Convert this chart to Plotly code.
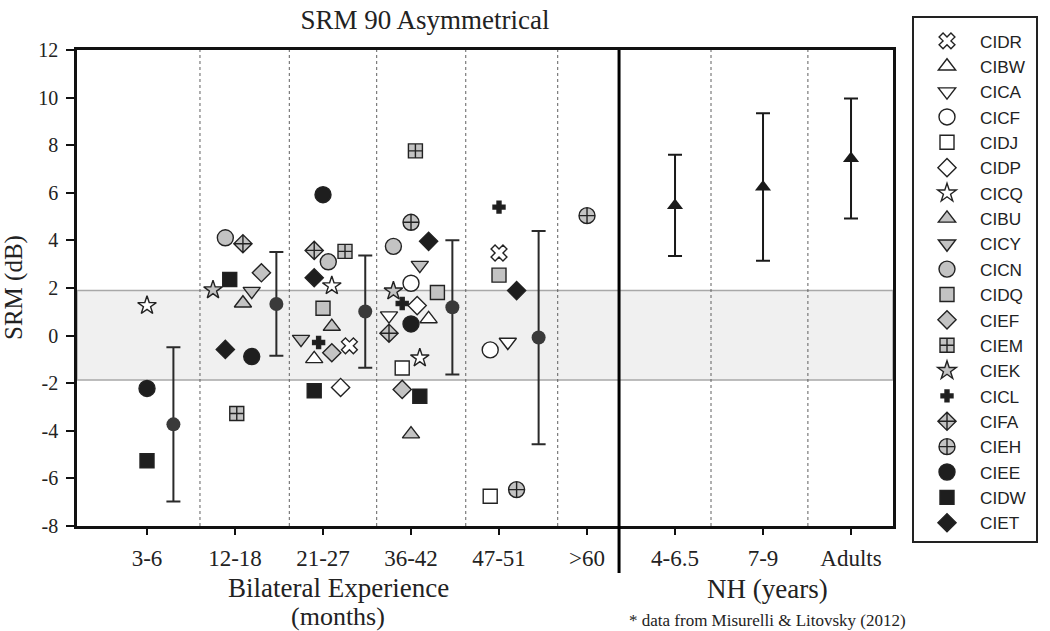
import plotly.graph_objects as go

# ---------------- data ----------------
categories = ["3-6", "12-18", "21-27", "36-42", "47-51", ">60", "4-6.5", "7-9", "Adults"]
cat_pos = [1, 2, 3, 4, 5, 6, 7, 8, 9]
y_ticks = [-8, -6, -4, -2, 0, 2, 4, 6, 8, 10, 12]
y_ticktext = ["-8", "-6", "-4", "-2", "0", "2", "4", "6", "8", "10", "12"]

# individual CI subjects: x (category position incl. jitter), y (SRM dB)
subjects = ["CIDR", "CIBW", "CICA", "CICF", "CIDJ", "CIDP", "CICQ", "CIBU", "CICY", "CICN",
            "CIDQ", "CIEF", "CIEM", "CIEK", "CICL", "CIFA", "CIEH", "CIEE", "CIDW", "CIET"]

CIDR_x = [3.30, 5.00];            CIDR_y = [-0.43, 3.47]
CIBW_x = [2.90, 4.20];            CIBW_y = [-0.98, 0.70]
CICA_x = [3.75, 5.10];            CICA_y = [0.84, -0.27]
CICF_x = [4.00, 4.90];            CICF_y = [2.20, -0.60]
CIDJ_x = [3.90, 4.90];            CIDJ_y = [-1.36, -6.75]
CIDP_x = [3.20, 4.07];            CIDP_y = [-2.18, 1.26]
CICQ_x = [1.00, 3.10, 4.10];      CICQ_y = [1.26, 2.09, -0.94]
CIBU_x = [2.09, 3.10, 4.00];      CIBU_y = [1.36, 0.38, -4.14]
CICY_x = [2.19, 2.75, 4.10];      CICY_y = [1.87, -0.15, 2.96]
CICN_x = [1.89, 3.06, 3.80];      CICN_y = [4.11, 3.10, 3.75]
CIDQ_x = [3.00, 4.30, 5.00];      CIDQ_y = [1.15, 1.81, 2.54]
CIEF_x = [2.30, 3.10, 3.90];      CIEF_y = [2.64, -0.72, -2.26]
CIEM_x = [2.02, 3.25, 4.05];      CIEM_y = [-3.27, 3.54, 7.76]
CIEK_x = [1.75, 3.80];            CIEK_y = [1.92, 1.87]
CICL_x = [2.95, 3.90, 5.00];      CICL_y = [-0.29, 1.35, 5.40]
CIFA_x = [2.09, 2.90, 3.75];      CIFA_y = [3.86, 3.58, 0.10]
CIEH_x = [4.00, 5.20, 6.00];      CIEH_y = [4.76, -6.47, 5.04]
CIEE_x = [1.00, 2.19, 3.00, 4.00]; CIEE_y = [-2.22, -0.88, 5.92, 0.49]
CIDW_x = [1.00, 1.94, 2.90, 4.10]; CIDW_y = [-5.26, 2.36, -2.32, -2.55]
CIET_x = [1.89, 2.90, 4.20, 5.20]; CIET_y = [-0.58, 2.43, 3.96, 1.89]

# group means (CI) with SD
mean_x = [1.30, 2.47, 3.48, 4.47, 5.45]
mean_y = [-3.73, 1.33, 1.01, 1.19, -0.08]
mean_sd = [3.24, 2.18, 2.36, 2.82, 4.48]

# NH data (Misurelli & Litovsky 2012)
nh_x = [7, 8, 9]
nh_y = [5.47, 6.24, 7.44]
nh_sd = [2.13, 3.10, 2.52]

# normal-range band
band_lo, band_hi = -1.87, 1.90

# ---------------- styles ----------------
WHITE, GRAY, BLACK = "white", "#c3c3c3", "#1e1e1e"
styles = {
    "CIDR": ("x", WHITE, 14), "CIBW": ("triangle-up", WHITE, 15), "CICA": ("triangle-down", WHITE, 15),
    "CICF": ("circle", WHITE, 16), "CIDJ": ("square", WHITE, 14), "CIDP": ("diamond", WHITE, 14),
    "CICQ": ("star", WHITE, 14), "CIBU": ("triangle-up", GRAY, 15), "CICY": ("triangle-down", GRAY, 15),
    "CICN": ("circle", GRAY, 16), "CIDQ": ("square", GRAY, 14), "CIEF": ("diamond", GRAY, 14),
    "CIEM": ("square-cross", GRAY, 14), "CIEK": ("star", GRAY, 14), "CICL": ("cross", BLACK, 10),
    "CIFA": ("diamond-cross", GRAY, 14), "CIEH": ("circle-cross", GRAY, 16), "CIEE": ("circle", BLACK, 16),
    "CIDW": ("square", BLACK, 14), "CIET": ("diamond", BLACK, 14),
}
data_map = {s: (globals()[s + "_x"], globals()[s + "_y"]) for s in subjects}

fig = go.Figure()

for s in subjects:
    sym, col, size = styles[s]
    xs, ys = data_map[s]
    fig.add_trace(go.Scatter(
        x=xs, y=ys, mode="markers", name=s + "\u00a0",
        marker=dict(symbol=sym, color=col, size=size, line=dict(color="#222222", width=1.4)),
    ))

fig.add_trace(go.Scatter(
    x=mean_x, y=mean_y, mode="markers", showlegend=False,
    marker=dict(symbol="circle", color="#3a3a3a", size=14),
    error_y=dict(type="data", array=mean_sd, color="#2a2a2a", thickness=2, width=7),
))
fig.add_trace(go.Scatter(
    x=nh_x, y=nh_y, mode="markers", showlegend=False,
    marker=dict(symbol="triangle-up", color="#1a1a1a", size=14),
    error_y=dict(type="data", array=nh_sd, color="#1a1a1a", thickness=2, width=7),
))

# ---------------- layout shapes ----------------
separators = [1.602, 2.617, 3.610, 4.622, 5.667, 7.409, 8.51]
panel_split = 6.364

shapes = [dict(type="rect", xref="paper", yref="y", x0=0, x1=1, y0=band_lo, y1=band_hi,
               fillcolor="#f0f0f0", line=dict(color="#a8a8a8", width=1.5), layer="below")]
for sx in separators:
    shapes.append(dict(type="line", xref="x", yref="paper", x0=sx, x1=sx, y0=0, y1=1,
                       line=dict(color="#606060", width=1, dash="dot"), layer="below"))
shapes.append(dict(type="line", xref="x", yref="paper", x0=panel_split, x1=panel_split, y0=-0.099, y1=1,
                   line=dict(color="black", width=3), layer="above"))

SERIF = "Liberation Serif, Times New Roman, serif"
PX0, PW, PY0, PH = 77, 816, 50, 476   # plot area in page pixels


def px(xs):
    return (xs - PX0) / PW


def py(ys):
    return (PY0 + PH - ys) / PH


annotations = [
    dict(text="SRM (dB)", x=px(14), y=0.5, xref="paper", yref="paper", textangle=-90,
         showarrow=False, font=dict(family=SERIF, size=25, color="#222"), xanchor="center", yanchor="middle"),
    dict(text="Bilateral Experience", x=px(338), y=py(588), xref="paper", yref="paper",
         showarrow=False, font=dict(family=SERIF, size=27, color="#222"), xanchor="center", yanchor="middle"),
    dict(text="(months)", x=px(338), y=py(616), xref="paper", yref="paper",
         showarrow=False, font=dict(family=SERIF, size=26, color="#222"), xanchor="center", yanchor="middle"),
    dict(text="NH (years)", x=px(767), y=py(589), xref="paper", yref="paper",
         showarrow=False, font=dict(family=SERIF, size=27, color="#222"), xanchor="center", yanchor="middle"),
    dict(text="* data from Misurelli &amp; Litovsky (2012)", x=px(767), y=py(620),
         xref="paper", yref="paper", showarrow=False, font=dict(family=SERIF, size=17, color="#222"),
         xanchor="center", yanchor="middle"),
]

fig.update_layout(
    width=1050, height=631,
    margin=dict(l=PX0, r=1050 - PX0 - PW, t=PY0, b=631 - PY0 - PH),
    paper_bgcolor="white", plot_bgcolor="white",
    title=dict(text="SRM 90 Asymmetrical", x=425 / 1050, xanchor="center", y=1 - 20 / 631,
               yanchor="middle", font=dict(family=SERIF, size=27, color="#222")),
    shapes=shapes, annotations=annotations,
    showlegend=True,
    legend=dict(x=px(912), y=py(16), xanchor="left", yanchor="top",
                bordercolor="#222", borderwidth=2, bgcolor="white", maxheight=600,
                title=dict(text="&nbsp;", font=dict(size=4)),
                font=dict(family="Liberation Sans, Arial, sans-serif", size=17.2, color="#222"),
                itemwidth=56, tracegroupgap=0),
    xaxis=dict(range=[0.2045, 9.477], tickmode="array", tickvals=cat_pos, ticktext=categories,
               showgrid=False, zeroline=False, showline=True, linecolor="#111", linewidth=2.5, mirror=True,
               ticks="outside", ticklen=6, tickwidth=2, tickcolor="#111", ticklabelstandoff=4,
               tickfont=dict(family=SERIF, size=23, color="#222")),
    yaxis=dict(range=[-8, 12], tickmode="array", tickvals=y_ticks, ticktext=y_ticktext,
               showgrid=False, zeroline=False, showline=True, linecolor="#111",
               linewidth=2.5, mirror=True, ticks="outside", ticklen=8, tickwidth=2, tickcolor="#111",
               ticklabelstandoff=4, tickfont=dict(family=SERIF, size=20, color="#222")),
)

# remove the default page margin so the 1050x631 figure fills the window exactly
fig.write_html("out.html", config={"displayModeBar": False},
               post_script="document.body.style.margin='0';")
